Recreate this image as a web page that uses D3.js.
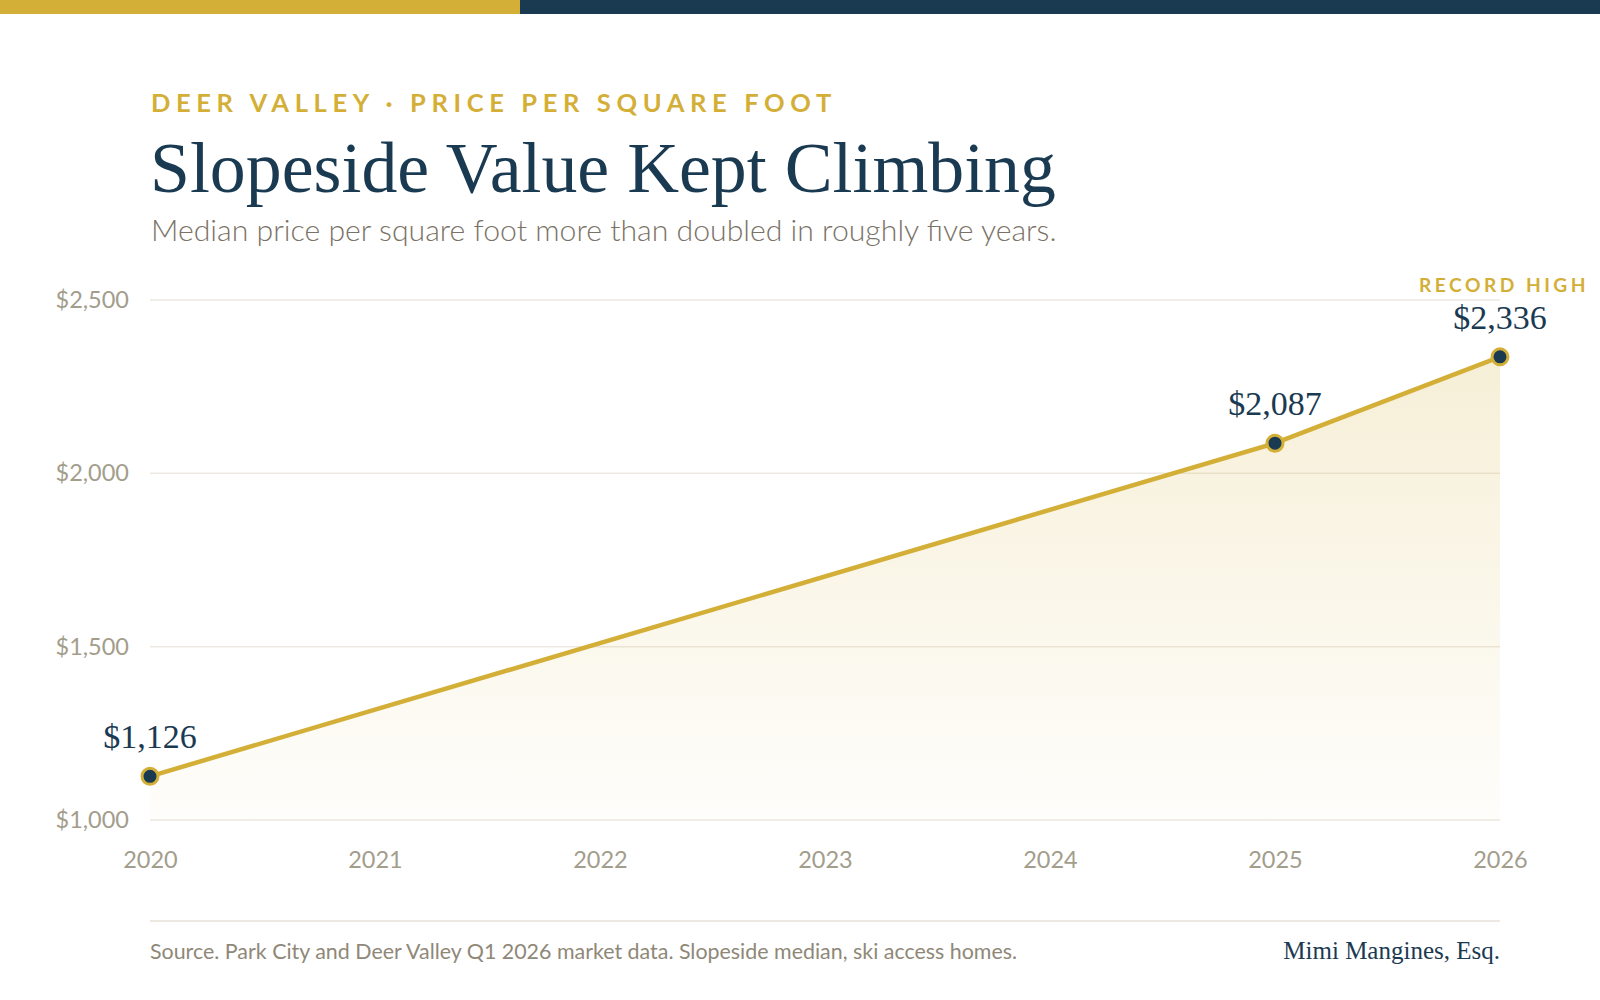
<!DOCTYPE html>
<html><head><meta charset="utf-8">
<script src="https://cdn.jsdelivr.net/npm/d3@7/dist/d3.min.js"></script>
<style>
html,body{margin:0;padding:0;background:#fff;}
svg{display:block;}
</style></head>
<body>
<svg id="chart" width="1600" height="1000"></svg>
<script>
const years = [2020, 2025, 2026];
const values = [1126, 2087, 2336];
const valueLabels = ["$1,126", "$2,087", "$2,336"];
const xTicks = [2020, 2021, 2022, 2023, 2024, 2025, 2026];
const yTicks = [1000, 1500, 2000, 2500];
const kicker = "DEER VALLEY · PRICE PER SQUARE FOOT";
const title = "Slopeside Value Kept Climbing";
const subtitle = "Median price per square foot more than doubled in roughly five years.";
const recordLabel = "RECORD HIGH";
const source = "Source. Park City and Deer Valley Q1 2026 market data. Slopeside median, ski access homes.";
const signature = "Mimi Mangines, Esq.";

const GOLD = "#d4af37", NAVY = "#1a3a52";
const SANS = "Lato, 'Open Sans', sans-serif";
const SERIF = "'Liberation Serif', 'DejaVu Serif', serif";

const svg = d3.select("#chart");
const W = 1600, H = 1000;
const m = {left: 150, right: 1500, top: 300, bottom: 820};

// top bar
svg.append("rect").attr("x", 0).attr("y", 0).attr("width", 520).attr("height", 14).attr("fill", GOLD);
svg.append("rect").attr("x", 520).attr("y", 0).attr("width", W - 520).attr("height", 14).attr("fill", NAVY);

function fit(sel, target) {
  const w = sel.node().getComputedTextLength();
  const fs = parseFloat(sel.attr("font-size"));
  sel.attr("font-size", fs * target / w);
}

const k = svg.append("text").attr("x", 151).attr("y", 112).text(kicker)
  .attr("font-family", SANS).attr("font-weight", 700).attr("font-size", 20)
  .attr("letter-spacing", "0.22em").attr("fill", GOLD);
fit(k, 686);

const t = svg.append("text").attr("x", 150).attr("y", 192).text(title)
  .attr("font-family", SERIF).attr("font-size", 70).attr("fill", NAVY);
fit(t, 906);

const s = svg.append("text").attr("x", 151).attr("y", 241).text(subtitle)
  .attr("font-family", SANS).attr("font-weight", 300).attr("font-size", 25).attr("fill", "#7a7266");
fit(s, 906);

const x = d3.scaleLinear().domain([2020, 2026]).range([m.left, m.right]);
const y = d3.scaleLinear().domain([1000, 2500]).range([m.bottom, m.top]);

// gradient
const defs = svg.append("defs");
const g = defs.append("linearGradient").attr("id", "areaGrad")
  .attr("gradientUnits", "userSpaceOnUse")
  .attr("x1", 0).attr("y1", y(2336)).attr("x2", 0).attr("y2", m.bottom);
g.append("stop").attr("offset", "0%").attr("stop-color", GOLD).attr("stop-opacity", 0.2);
g.append("stop").attr("offset", "100%").attr("stop-color", GOLD).attr("stop-opacity", 0.02);

// grid
svg.append("g").selectAll("line").data(yTicks).join("line")
  .attr("x1", m.left).attr("x2", m.right)
  .attr("y1", d => y(d)).attr("y2", d => y(d))
  .attr("stroke", "#ede9e2").attr("stroke-width", 1.5);

// y axis labels
const yAxis = d3.axisLeft(y).tickValues(yTicks).tickSize(0).tickPadding(0)
  .tickFormat(d => "$" + d3.format(",")(d));
const ya = svg.append("g").attr("transform", `translate(${m.left - 21},0)`).call(yAxis);
ya.select(".domain").remove();
ya.selectAll("text").attr("font-family", SANS).attr("font-size", 23.5).attr("fill", "#a39d8c");

// x axis labels
const xAxis = d3.axisBottom(x).tickValues(xTicks).tickSize(0).tickPadding(0).tickFormat(d3.format("d"));
const xa = svg.append("g").attr("transform", `translate(0,${m.bottom + 31})`).call(xAxis);
xa.select(".domain").remove();
xa.selectAll("text").attr("font-family", SANS).attr("font-size", 23.5).attr("fill", "#a39d8c");

const data = years.map((yr, i) => ({yr, v: values[i], label: valueLabels[i]}));

// area
const area = d3.area().x(d => x(d.yr)).y0(m.bottom).y1(d => y(d.v));
svg.append("path").datum(data).attr("d", area).attr("fill", "url(#areaGrad)");

// line
const line = d3.line().x(d => x(d.yr)).y(d => y(d.v));
svg.append("path").datum(data).attr("d", line).attr("fill", "none")
  .attr("stroke", GOLD).attr("stroke-width", 4.5).attr("stroke-linejoin", "round");

// points
svg.append("g").selectAll("circle").data(data).join("circle")
  .attr("cx", d => x(d.yr)).attr("cy", d => y(d.v)).attr("r", 8)
  .attr("fill", NAVY).attr("stroke", GOLD).attr("stroke-width", 3);

// value labels
svg.append("g").selectAll("text").data(data).join("text")
  .attr("x", d => x(d.yr)).attr("y", d => y(d.v) - 28)
  .attr("text-anchor", "middle").attr("font-family", SERIF).attr("font-size", 34)
  .attr("fill", NAVY).text(d => d.label);

// record high
const last = data[data.length - 1];
const rh = svg.append("text").attr("x", x(last.yr) + 4).attr("y", 292).attr("text-anchor", "middle")
  .attr("font-family", SANS).attr("font-weight", 700).attr("font-size", 17)
  .attr("letter-spacing", "0.18em").attr("fill", GOLD).text(recordLabel);
fit(rh, 170);

// footer
svg.append("line").attr("x1", m.left).attr("x2", m.right).attr("y1", 921).attr("y2", 921)
  .attr("stroke", "#ede9e2").attr("stroke-width", 2);
const src = svg.append("text").attr("x", 150).attr("y", 959).attr("font-family", SANS)
  .attr("font-size", 18).attr("fill", "#8f8878").text(source);
fit(src, 868);
svg.append("text").attr("x", m.right).attr("y", 959).attr("text-anchor", "end")
  .attr("font-family", SERIF).attr("font-size", 25).attr("fill", NAVY).text(signature);
</script>
</body></html>
